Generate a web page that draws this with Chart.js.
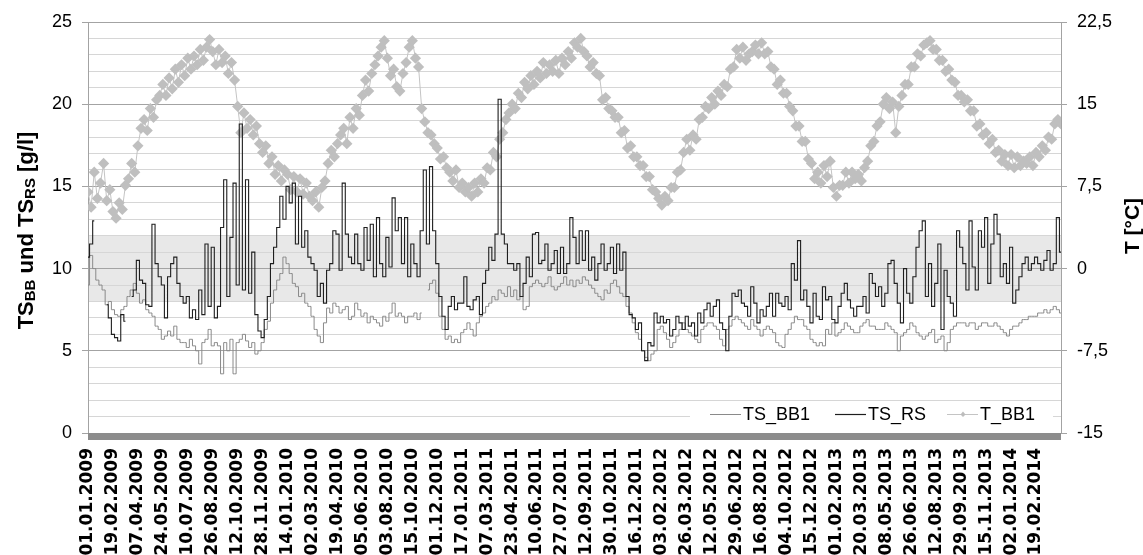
<!DOCTYPE html>
<html><head><meta charset="utf-8">
<script src="https://cdn.jsdelivr.net/npm/chart.js@4.4.1/dist/chart.umd.min.js"></script>
<style>html,body{margin:0;padding:0;background:#fff}#wrap{width:1143px;height:555px;position:relative}</style>
</head><body><div id="wrap"><canvas id="c" width="1143" height="555"></canvas></div>
<script>
const tickLabels = ["01.01.2009","19.02.2009","07.04.2009","24.05.2009","10.07.2009","26.08.2009","12.10.2009","28.11.2009",
"14.01.2010","02.03.2010","19.04.2010","05.06.2010","03.08.2010","15.10.2010","01.12.2010",
"17.01.2011","07.03.2011","23.04.2011","10.06.2011","27.07.2011","12.09.2011","30.10.2011","16.12.2011",
"03.02.2012","26.03.2012","12.05.2012","29.06.2012","16.08.2012","04.10.2012","15.12.2012",
"01.02.2013","20.03.2013","08.05.2013","26.06.2013","12.08.2013","29.09.2013","15.11.2013",
"02.01.2014","19.02.2014"];
const POINTS_PER_LABEL = 8;
const AXIS_END = 39;

const tsBB1 = [
9.0,10.8,10.0,9.3,9.0,8.7,7.8,8.0, 7.5,7.2,7.1,7.5,7.7,8.3,8.7,9.1, 8.5,7.9,8.1,7.5,7.3,7.1,6.5,6.3, 5.7,5.9,6.2,5.9,6.5,5.7,5.5,5.5,
5.2,5.7,5.3,5.0,4.2,5.5,5.7,6.3, 5.3,5.5,5.3,3.6,5.5,5.0,5.7,3.6, 5.5,5.7,6.0,5.6,5.2,5.5,4.8,5.0, 5.5,6.3,6.8,7.9,8.7,9.3,9.7,10.7,
10.3,9.7,9.1,8.9,8.3,8.5,7.9,7.7, 7.1,6.3,5.9,5.5,6.7,7.6,7.3,7.9, 7.7,7.3,7.5,7.7,6.9,7.1,7.9,7.5, 7.1,7.3,6.7,7.1,6.9,6.7,6.5,7.1,
6.8,7.3,7.9,7.1,7.3,7.1,6.7,7.1, 7.1,7.3,6.9,7.3,null,8.7,9.1,9.3, 8.5,7.1,6.3,5.7,5.9,5.5,5.7,5.5, 6.1,6.3,6.7,6.3,5.9,6.7,7.1,7.3,
7.7,7.9,8.3,8.1,8.7,8.5,8.3,8.9, 8.3,8.7,8.1,8.3,7.5,7.7,8.9,9.1, 9.3,9.1,8.9,9.1,9.5,8.9,8.7,8.9, 9.1,9.5,9.0,9.3,8.9,9.3,9.1,9.5,
9.3,9.0,8.8,8.5,8.3,8.1,8.7,8.5, 9.1,9.3,8.9,8.5,8.3,7.7,7.3,6.7, 6.1,5.7,5.0,4.6,4.4,4.8,5.0,6.3, 6.5,6.1,5.7,5.2,5.5,5.9,6.3,6.7,
6.3,6.1,5.9,5.7,5.5,6.3,6.5,6.7, 6.7,6.5,6.3,5.7,5.3,6.3,6.5,6.9, 7.1,6.9,6.7,6.5,6.3,6.9,6.5,6.3, 5.9,6.3,6.5,6.3,6.1,5.5,5.3,5.2,
6.0,6.3,6.7,7.1,6.9,6.9,6.5,6.3, 5.7,5.5,5.3,5.5,5.3,6.3,6.0,6.7, 5.9,6.1,6.3,6.7,6.5,6.3,6.1,6.1, 6.5,6.7,6.9,6.5,6.5,6.3,6.3,6.3,
6.7,6.5,6.3,6.1,5.0,5.9,6.1,6.3, 6.7,6.5,6.1,5.9,5.7,5.9,6.1,6.3, 5.5,5.7,5.9,5.0,5.5,6.3,6.5,6.7, 6.7,6.7,6.5,6.7,6.7,6.3,6.5,6.7,
6.7,6.5,6.5,6.7,6.5,6.3,6.1,5.9, 6.3,6.5,6.5,6.7,6.9,6.9,7.1,7.1, 7.1,7.3,7.3,7.5,7.3,7.5,7.7,7.5, 7.3];

const tsRS = [
10.7,11.5,12.9,null,null,null,7.8,7.0, 6.0,5.8,5.6,7.2,6.8,null,8.3,8.7, 10.5,9.3,9.1,7.8,7.7,12.7,10.3,9.5, 9.0,7.0,9.5,10.3,10.7,9.1,8.3,7.9,
8.3,7.0,7.5,6.9,8.7,7.2,11.5,7.7, 11.3,7.0,7.7,12.5,15.4,8.3,11.9,15.2, 9.0,18.8,8.7,15.4,8.5,11.0,7.2,6.2, 5.8,6.9,8.3,10.3,11.3,12.5,14.4,13.0,
15.0,14.0,15.2,11.5,14.4,11.3,12.3,10.7, 10.3,9.9,8.3,9.1,7.9,9.9,10.3,12.3, 12.1,9.9,15.2,12.1,10.7,10.3,12.1,10.3, 9.9,12.5,10.5,12.7,9.5,13.1,10.3,9.5,
11.9,10.1,14.3,12.3,13.1,10.3,13.1,9.5, 11.5,10.3,9.5,12.3,16.0,11.5,16.2,12.3, 10.3,8.3,7.1,6.3,7.7,8.3,7.5,7.9, 7.9,9.5,7.7,7.5,8.1,8.3,7.2,9.1,
9.9,11.3,10.5,12.1,20.3,12.1,11.5,10.3, 10.3,9.9,10.3,8.3,9.1,10.7,9.5,12.1, 12.2,10.3,10.5,11.5,9.9,10.3,11.1,9.7, 11.3,9.7,10.3,13.1,11.9,10.3,12.3,10.5,
12.3,9.9,10.7,9.3,10.3,11.5,9.9,10.3, 11.3,9.7,11.5,9.9,11.0,8.3,7.2,7.0, 6.3,6.7,5.0,4.4,5.5,5.3,7.3,6.7, 7.1,6.7,6.9,5.9,6.3,7.1,6.7,6.3,
7.1,6.5,6.7,5.9,7.3,6.7,7.5,7.9, 7.1,7.7,8.1,6.7,6.3,5.0,7.1,8.5, 8.3,8.7,7.9,7.7,7.1,8.9,7.9,6.7, 7.5,7.1,7.7,8.5,7.1,8.5,7.9,7.7,
8.3,7.5,10.3,9.3,11.7,8.1,8.7,7.7, 6.7,8.5,7.1,6.9,8.9,8.1,8.3,6.9, 6.7,7.7,8.5,9.1,8.1,7.6,7.1,7.7, 7.7,8.3,7.3,9.7,9.1,8.3,8.9,7.7,
8.5,10.3,10.5,9.1,7.9,6.7,10.0,8.5, 7.9,9.5,11.3,12.3,12.9,8.3,10.3,7.7, 9.1,11.5,6.3,9.9,8.3,7.9,7.1,12.3, 11.3,10.3,8.7,12.9,10.1,8.7,12.3,11.3,
13.1,9.1,11.5,13.3,12.1,9.5,10.3,9.1, 11.3,7.9,8.7,9.5,10.3,10.7,9.9,10.3, 10.7,10.3,9.9,10.5,11.1,9.9,10.3,13.1, 11.0];

const tBB1 = [
7.0,5.6,8.8,6.4,7.8,9.6,6.2,7.2, 5.2,4.6,6.0,5.4,7.6,8.2,9.6,8.8, 11.2,12.8,13.6,12.6,14.6,13.8,15.4,15.8, 16.8,15.8,17.4,16.4,18.2,17.0,18.6,17.6,
19.2,18.2,19.4,18.6,20.0,19.0,20.2,20.9, 19.8,18.6,20.0,18.8,19.4,17.8,18.8,17.2, 14.8,12.4,14.2,12.8,13.6,12.2,13.0,11.4, 10.6,11.2,9.6,10.2,8.6,9.4,8.0,9.0,
8.6,7.2,8.4,7.0,8.2,6.8,7.8,6.6, 6.2,7.0,5.6,7.4,8.0,9.6,10.8,10.2, 11.4,12.2,12.8,11.4,13.8,12.8,14.6,14.0, 15.8,17.2,16.2,17.8,18.6,19.4,20.2,20.8,
19.2,17.6,18.2,16.6,16.2,17.8,18.8,20.2, 20.8,19.2,18.4,14.6,13.4,12.4,12.2,11.4, 11.0,10.0,10.2,9.2,8.8,8.0,9.0,7.4, 7.8,7.0,7.4,6.6,7.8,7.0,8.2,7.8,
9.2,9.0,10.6,10.2,11.8,12.4,13.6,14.2, 15.0,14.6,16.0,15.6,17.0,16.4,17.6,16.8, 18.0,17.4,18.8,17.8,18.6,18.0,19.0,17.8, 19.2,18.6,19.8,19.2,20.6,20.2,21.0,19.8,
19.4,18.4,18.8,17.8,17.6,15.4,15.6,14.6, 14.4,13.8,13.8,12.4,12.6,11.0,11.2,10.2, 10.2,9.4,9.4,8.4,8.4,7.2,7.0,6.4, 5.8,6.6,6.2,7.4,7.4,8.8,9.0,10.6,
11.8,10.8,12.2,11.8,13.6,13.8,14.8,14.6, 15.6,15.0,16.2,15.8,16.8,16.6,18.2,18.4, 20.0,19.2,20.2,19.0,19.6,19.8,20.4,19.6, 20.6,19.6,19.8,18.4,18.2,16.8,17.2,16.0,
16.0,14.8,14.4,13.0,13.0,11.6,11.6,10.0, 9.6,8.2,8.8,7.8,9.4,8.4,9.8,7.4, 6.6,7.6,7.6,8.8,7.8,8.8,8.2,8.6, 8.0,9.2,9.8,11.2,11.6,13.0,13.4,15.0,
15.6,14.6,15.2,12.4,14.8,15.8,16.8,16.8, 18.4,18.4,19.6,19.4,20.4,20.6,20.8,20.0, 20.0,19.0,19.0,18.0,18.2,17.2,17.0,15.8, 15.8,15.2,15.4,14.4,14.4,13.0,13.2,12.2,
12.4,11.4,11.8,10.6,10.8,9.8,10.4,9.4, 10.4,9.2,10.2,9.4,9.8,9.6,10.2,9.4, 10.6,10.2,11.2,10.8,12.0,11.8,13.2,13.6, 13.2];

const bandLow = 8, bandHigh = 12;
const leftTitleParts = [["TS",0],["BB",1],[" und ",0],["TS",0],["RS",1],[" [g/l]",0]];
const rightTitle = "T [°C]";
const legendItems = ["TS_BB1","TS_RS","T_BB1"];

function toXY(arr){ return arr.map((v,i)=>({x:i/POINTS_PER_LABEL, y:v})); }

const SANS = '"Liberation Sans", Arial, sans-serif';

const decor = {
  id:'decor',
  beforeDraw(chart){
    const {ctx, chartArea:a, scales} = chart;
    const y1 = scales.y.getPixelForValue(bandHigh), y2 = scales.y.getPixelForValue(bandLow);
    ctx.save(); ctx.fillStyle = '#e8e8e8';
    ctx.fillRect(a.left, y1, a.right - a.left, y2 - y1);
    ctx.restore();
  },
  afterDraw(chart){
    const {ctx, chartArea:a} = chart;
    ctx.save();
    ctx.fillStyle = '#8c8c8c';
    ctx.fillRect(a.left, a.bottom, a.right - a.left, 7);
    ctx.fillStyle = '#fff';
    ctx.fillRect(a.right - 371, a.bottom - 31, 363, 28);
    const ly = a.bottom - 19;
    ctx.font = '18px ' + SANS; ctx.textBaseline = 'middle'; ctx.textAlign = 'left';
    const items = [
      {x: a.right - 351, color:'#8a8a8a', w:1, marker:false},
      {x: a.right - 226, color:'#1e1e1e', w:1.2, marker:false},
      {x: a.right - 114, color:'#c4c4c4', w:1, marker:true}
    ];
    items.forEach((it, i) => {
      ctx.strokeStyle = it.color; ctx.lineWidth = it.w;
      ctx.beginPath(); ctx.moveTo(it.x, ly + 0.5); ctx.lineTo(it.x + 31, ly + 0.5); ctx.stroke();
      if (it.marker) {
        ctx.fillStyle = '#bdbdbd';
        ctx.beginPath(); const cx = it.x + 16;
        ctx.moveTo(cx, ly - 2.5); ctx.lineTo(cx + 2.5, ly + 0.5); ctx.lineTo(cx, ly + 3); ctx.lineTo(cx - 2.5, ly + 0.5); ctx.closePath(); ctx.fill();
      }
      ctx.fillStyle = '#000';
      ctx.fillText(legendItems[i], it.x + 33, ly + 1);
    });
    ctx.fillStyle = '#000';
    let total = 0;
    leftTitleParts.forEach(p => { ctx.font = 'bold ' + (p[1] ? 15 : 22) + 'px ' + SANS; total += ctx.measureText(p[0]).width; });
    ctx.translate(33, (a.top + a.bottom) / 2 + 3);
    ctx.rotate(-Math.PI / 2);
    ctx.textBaseline = 'alphabetic'; ctx.textAlign = 'left';
    let x = -total / 2;
    leftTitleParts.forEach(p => { ctx.font = 'bold ' + (p[1] ? 15 : 22) + 'px ' + SANS; ctx.fillText(p[0], x, p[1] ? 2 : 0); x += ctx.measureText(p[0]).width; });
    ctx.restore();
    ctx.save();
    ctx.fillStyle = '#000';
    ctx.font = 'bold 21px ' + SANS;
    ctx.translate(1139, 226);
    ctx.rotate(-Math.PI / 2);
    ctx.textAlign = 'center'; ctx.textBaseline = 'alphabetic';
    ctx.fillText(rightTitle, 0, 0);
    ctx.restore();
  }
};

new Chart(document.getElementById('c'), {
  type:'line',
  data:{ datasets:[
    {label:'TS_BB1', data:toXY(tsBB1), yAxisID:'y', borderColor:'#8a8a8a', borderWidth:1, pointRadius:0, order:1, spanGaps:false, stepped:'middle'},
    {label:'TS_RS', data:toXY(tsRS), yAxisID:'y', borderColor:'#1e1e1e', borderWidth:1.1, pointRadius:0, order:0, spanGaps:false, stepped:'middle'},
    {label:'T_BB1', data:toXY(tBB1), yAxisID:'y2', borderColor:'#c4c4c4', borderWidth:1, pointStyle:'rectRot', pointRadius:5.6,
      pointBackgroundColor:'#bfbfbf', pointBorderColor:'#bfbfbf', pointBorderWidth:0, order:2, tension:0}
  ]},
  options:{
    responsive:false, animation:false, devicePixelRatio:1,
    layout:{padding:{top:22, left:0, right:0, bottom:0}},
    plugins:{legend:{display:false}, tooltip:{enabled:false}},
    scales:{
      x:{type:'linear', min:0, max:AXIS_END, position:'bottom',
        afterBuildTicks:s=>{ s.ticks = tickLabels.map((_,i)=>({value:i})); },
        afterFit:s=>{ s.height = 122; },
        ticks:{autoSkip:false, minRotation:90, maxRotation:90, padding:15, color:'#000',
          font:{family:'"DejaVu Sans", sans-serif', weight:'bold', size:17},
          callback:(v)=> tickLabels[v] !== undefined ? tickLabels[v] : ''},
        grid:{display:false, drawTicks:false}, border:{display:false}},
      y:{position:'left', min:0, max:25,
        afterFit:s=>{ s.width = 88; },
        ticks:{stepSize:1, autoSkip:false, padding:10, color:'#000', font:{family:SANS, size:18},
          callback:(v)=> (v % 5 === 0 ? String(v) : '')},
        grid:{color:(c)=> (c.tick && c.tick.value % 5 === 0 ? '#a3a3a3' : '#d6d6d6'),
          tickColor:(c)=> (c.tick && c.tick.value % 5 === 0 ? '#a3a3a3' : 'rgba(0,0,0,0)'), tickLength:6, lineWidth:1},
        border:{color:'#a3a3a3', width:1}},
      y2:{position:'right', min:-15, max:22.5,
        afterFit:s=>{ s.width = 82; },
        ticks:{stepSize:7.5, padding:10, color:'#000', font:{family:SANS, size:18},
          callback:(v)=> String(v).replace('.', ',')},
        grid:{drawOnChartArea:false, tickLength:6, tickColor:'#a3a3a3'},
        border:{color:'#a3a3a3', width:1}}
    }
  },
  plugins:[decor]
});
</script></body></html>
